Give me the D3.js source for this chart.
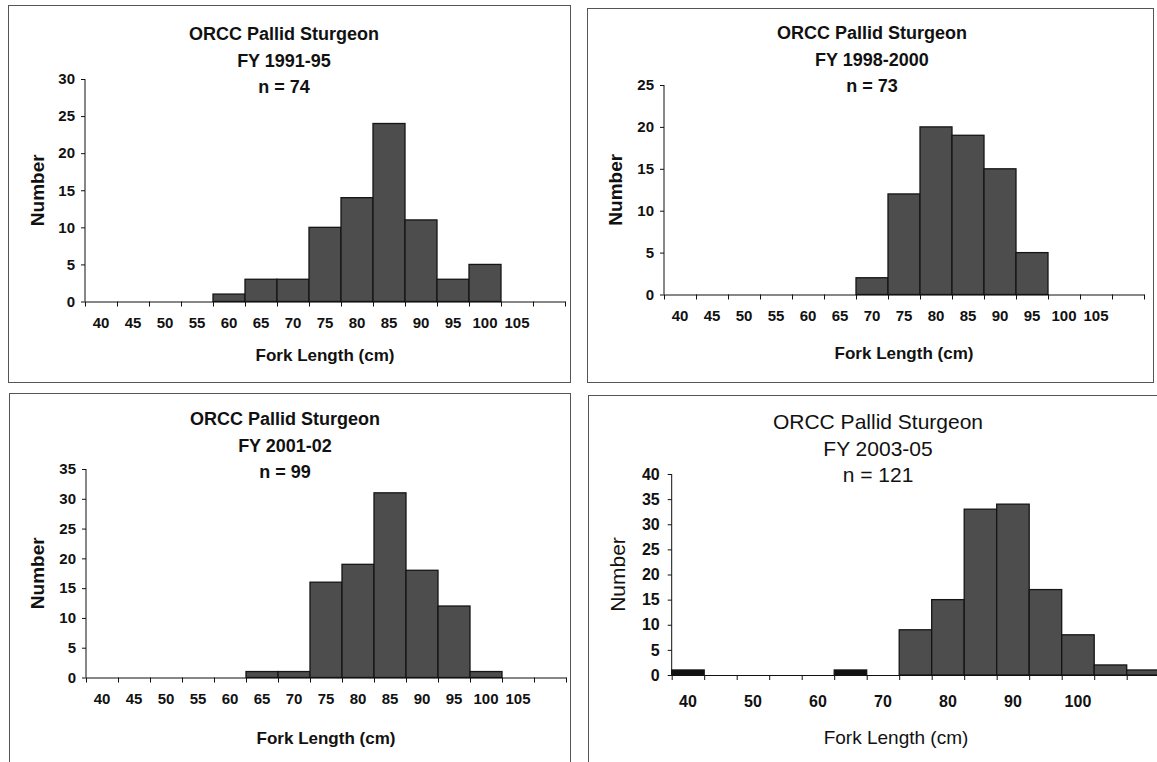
<!DOCTYPE html>
<html>
<head>
<meta charset="utf-8">
<script src="https://cdn.jsdelivr.net/npm/d3@7"></script>
<style>
  body { margin: 0; background: #fff; }
  svg { display: block; }
  text { font-family: "Liberation Sans", Arial, sans-serif; fill: #111; }
</style>
</head>
<body>
<div id="chart"></div>
<script>
  // Fork length bins (cm), lower edge of each 5 cm class
  const bins = [40, 45, 50, 55, 60, 65, 70, 75, 80, 85, 90, 95, 100, 105, 110];

  // counts per bin
  const counts1991 = [0, 0, 0, 0, 1, 3, 3, 10, 14, 24, 11, 3, 5, 0, 0];
  const counts1998 = [0, 0, 0, 0, 0, 0, 2, 12, 20, 19, 15, 5, 0, 0, 0];
  const counts2001 = [0, 0, 0, 0, 0, 1, 1, 16, 19, 31, 18, 12, 1, 0, 0];
  const counts2003 = [1, 0, 0, 0, 0, 1, 0, 9, 15, 33, 34, 17, 8, 2, 1];

  // bins printed in solid black in the last panel
  const blackBins2003 = [40, 65];

  const labelsFull = ["40", "45", "50", "55", "60", "65", "70", "75", "80", "85", "90", "95", "100", "105", ""];
  const labelsTens = ["40", "", "50", "", "60", "", "70", "", "80", "", "90", "", "100", "", ""];

  const width = 1157, height = 762;

  const svg = d3.select("#chart").append("svg")
    .attr("width", width)
    .attr("height", height);

  const panels = [
    { period: "FY 1991-95", n: 74, counts: counts1991, labels: labelsFull, ymax: 30,
      box: [8, 5, 570, 382], x0: 85, x1: 565, yBase: 301.5, yTop: 79,
      titleX: 284, titleY: 34, numX: 37, forkX: 325, forkY: 355, bold: true },
    { period: "FY 1998-2000", n: 73, counts: counts1998, labels: labelsFull, ymax: 25,
      box: [587, 8, 1153, 382], x0: 664, x1: 1144, yBase: 294.5, yTop: 85,
      titleX: 872, titleY: 33, numX: 615, forkX: 904, forkY: 353, bold: true },
    { period: "FY 2001-02", n: 99, counts: counts2001, labels: labelsFull, ymax: 35,
      box: [9, 393, 570, 775], x0: 86, x1: 566, yBase: 677.5, yTop: 469,
      titleX: 285, titleY: 419, numX: 37, forkX: 326, forkY: 738, bold: true },
    { period: "FY 2003-05", n: 121, counts: counts2003, labels: labelsTens, ymax: 40,
      box: [588, 395, 1175, 775], x0: 671.7, x1: 1159.2, yBase: 675, yTop: 474,
      titleX: 878, titleY: 422, numX: 618, forkX: 896, forkY: 737, bold: false,
      black: blackBins2003 }
  ];

  panels.forEach(drawPanel);

  function drawPanel(p) {
    const g = svg.append("g");
    const big = !p.bold;

    // chart area border
    g.append("rect")
      .attr("x", p.box[0] + 0.5)
      .attr("y", p.box[1] + 0.5)
      .attr("width", p.box[2] - p.box[0])
      .attr("height", p.box[3] - p.box[1])
      .attr("fill", "none")
      .attr("stroke", "#555")
      .attr("stroke-width", 1);

    const x = d3.scaleBand()
      .domain(bins)
      .range([p.x0, p.x1])
      .padding(0);

    // linear twin of the band scale, for tick marks on the bin edges
    const xEdge = d3.scaleLinear()
      .domain([0, bins.length])
      .range([p.x0, p.x1]);

    const y = d3.scaleLinear()
      .domain([0, p.ymax])
      .range([p.yBase, p.yTop]);

    const data = bins.map((b, i) => ({ bin: b, count: p.counts[i] }));

    // bars
    g.append("g")
      .selectAll("rect")
      .data(data.filter(d => d.count > 0))
      .join("rect")
      .attr("x", d => x(d.bin))
      .attr("y", d => y(d.count))
      .attr("width", x.bandwidth())
      .attr("height", d => y(0) - y(d.count))
      .attr("fill", d => (p.black && p.black.includes(d.bin)) ? "#111" : "#4d4d4d")
      .attr("stroke", "#151515")
      .attr("stroke-width", 1.3);

    // y axis
    g.append("g")
      .attr("transform", `translate(${p.x0},0)`)
      .call(d3.axisLeft(y)
        .tickValues(d3.range(0, p.ymax + 1, 5))
        .tickSize(4)
        .tickPadding(big ? 8 : 6))
      .call(a => a.select(".domain").attr("stroke", "#111").attr("d", `M0,${p.yBase}V${p.yTop}`))
      .call(a => a.selectAll(".tick line").attr("stroke", "#111"))
      .call(a => a.selectAll("text")
        .style("font-size", big ? "16px" : "15px")
        .style("font-weight", "bold")
        .style("font-family", "'Liberation Sans', Arial, sans-serif")
        .attr("fill", "#111"));

    // x axis: edge ticks
    g.append("g")
      .attr("transform", `translate(0,${p.yBase})`)
      .call(d3.axisBottom(xEdge)
        .tickValues(d3.range(bins.length + 1))
        .tickFormat("")
        .tickSize(5)
        .tickSizeOuter(0))
      .call(a => a.select(".domain").attr("stroke", "#111"))
      .call(a => a.selectAll(".tick line").attr("stroke", "#111"));

    // x axis: centred bin labels
    g.append("g")
      .attr("transform", `translate(0,${p.yBase})`)
      .call(d3.axisBottom(x)
        .tickFormat((d, i) => p.labels[i])
        .tickSize(0)
        .tickPadding(big ? 21 : 16))
      .call(a => a.select(".domain").remove())
      .call(a => a.selectAll("text")
        .style("font-size", big ? "16px" : "15px")
        .style("font-weight", "bold")
        .style("font-family", "'Liberation Sans', Arial, sans-serif")
        .attr("fill", "#111"));

    // titles
    const titleLines = ["ORCC Pallid Sturgeon", p.period, `n = ${p.n}`];
    g.append("g")
      .selectAll("text")
      .data(titleLines)
      .join("text")
      .attr("x", p.titleX)
      .attr("y", (d, i) => p.titleY + i * 26.5)
      .attr("dy", "0.35em")
      .attr("text-anchor", "middle")
      .style("font-size", big ? "21px" : "18px")
      .style("font-weight", p.bold ? "bold" : "normal")
      .text(d => d);

    // axis titles
    g.append("text")
      .attr("transform", `translate(${p.numX},${(p.yBase + p.yTop) / 2}) rotate(-90)`)
      .attr("dy", "0.35em")
      .attr("text-anchor", "middle")
      .style("font-size", big ? "21px" : "19px")
      .style("font-weight", p.bold ? "bold" : "normal")
      .text("Number");

    g.append("text")
      .attr("x", p.forkX)
      .attr("y", p.forkY)
      .attr("dy", "0.35em")
      .attr("text-anchor", "middle")
      .style("font-size", big ? "19px" : "17px")
      .style("font-weight", p.bold ? "bold" : "normal")
      .text("Fork Length (cm)");
  }
</script>
</body>
</html>
